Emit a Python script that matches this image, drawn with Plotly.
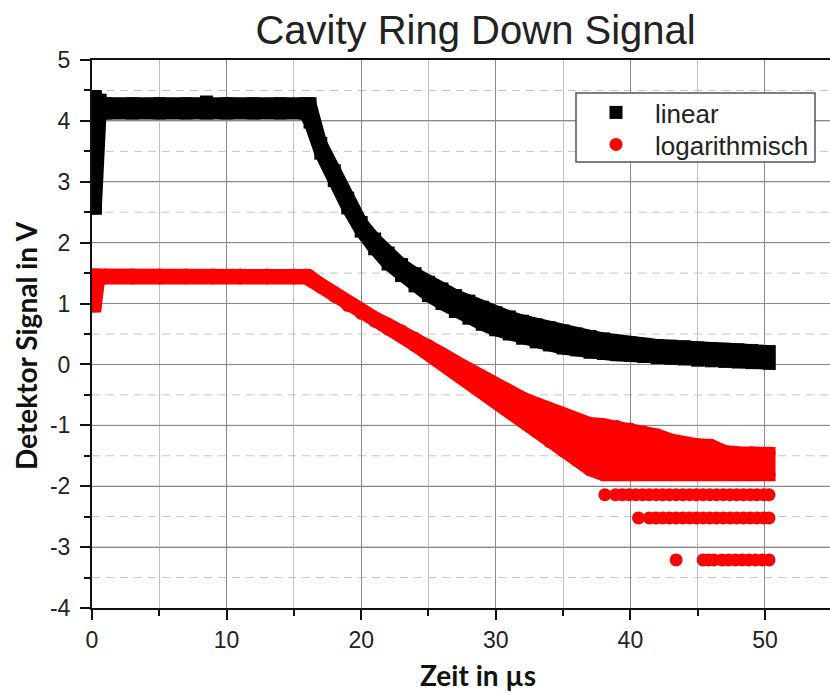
import plotly.graph_objects as go

# ---- measured ring-down data (time in µs, signal in V) ----
# "linear": detector voltage; band of samples given by upper/lower marker centres
lin_t = [0, 0.25, 0.6, 1, 3, 5, 7, 8.5, 10, 12, 14, 15.8, 16.2,
         17, 18, 19, 20, 21, 22, 23, 24, 25, 26, 27, 28, 29, 30,
         31, 32, 33, 34, 35, 36, 37, 38, 39, 40, 41, 42, 43, 44,
         45, 46, 47, 48, 49, 50.3]
lin_hi = [4.40, 4.40, 4.34, 4.28, 4.28, 4.28, 4.28, 4.31, 4.28, 4.28, 4.28, 4.28, 4.28,
          3.63, 3.18, 2.73, 2.33, 2.06, 1.83, 1.64, 1.49, 1.35, 1.24, 1.13, 1.04, 0.94, 0.85,
          0.78, 0.71, 0.65, 0.60, 0.55, 0.50, 0.46, 0.42, 0.38, 0.35, 0.33, 0.31, 0.30, 0.29,
          0.27, 0.26, 0.25, 0.24, 0.23, 0.21]
lin_lo = [2.57, 2.57, 4.13, 4.13, 4.13, 4.13, 4.13, 4.13, 4.13, 4.13, 4.13, 4.13, 3.98,
          3.47, 3.02, 2.57, 2.19, 1.90, 1.65, 1.46, 1.29, 1.13, 1.00, 0.87, 0.76, 0.66, 0.57,
          0.50, 0.43, 0.37, 0.32, 0.27, 0.24, 0.20, 0.18, 0.16, 0.15, 0.13, 0.11, 0.10, 0.09,
          0.07, 0.06, 0.05, 0.04, 0.03, 0.02]

# "logarithmisch": ln of the detector voltage
log_t = [0, 0.25, 0.5, 1, 3, 5, 7, 9, 11, 13, 15, 15.9, 16.1,
         17, 18, 19, 20, 21, 22, 23, 24, 25, 26, 27, 28, 29, 30,
         31, 32, 33, 34, 35, 36, 37, 38, 39, 40, 41, 42, 43, 44,
         45, 46, 47, 48, 49, 50.3]
log_hi = [1.47, 1.47, 1.47, 1.47, 1.47, 1.47, 1.47, 1.47, 1.47, 1.47, 1.47, 1.47, 1.46,
          1.32, 1.17, 1.02, 0.88, 0.77, 0.66, 0.55, 0.43, 0.31, 0.18, 0.05, -0.08, -0.21, -0.34,
          -0.45, -0.55, -0.64, -0.73, -0.82, -0.90, -0.97, -0.99, -1.02, -1.06, -1.11, -1.16, -1.24, -1.30,
          -1.32, -1.33, -1.43, -1.45, -1.45, -1.46]
log_lo = [0.96, 0.96, 1.42, 1.42, 1.42, 1.42, 1.42, 1.42, 1.42, 1.42, 1.42, 1.42, 1.40,
          1.27, 1.12, 0.97, 0.84, 0.71, 0.58, 0.45, 0.31, 0.17, 0.02, -0.13, -0.28, -0.45, -0.62,
          -0.77, -0.92, -1.10, -1.27, -1.42, -1.57, -1.73, -1.81, -1.81, -1.81, -1.81, -1.81, -1.81, -1.81,
          -1.81, -1.81, -1.81, -1.81, -1.81, -1.81]

# separate ADC quantisation levels at the end of the decay (ln of small voltages)
row1_v = -2.14
row1_t = [38.1, 38.9, 39.4, 39.9, 40.4, 40.9, 41.4, 41.9, 42.4, 42.9, 43.4, 43.9, 44.4,
          44.9, 45.4, 45.9, 46.4, 46.9, 47.4, 47.9, 48.4, 48.9, 49.4, 49.9, 50.3]
row2_v = -2.52
row2_t = [40.6, 41.4, 41.9, 42.4, 42.9, 43.4, 43.9, 44.4, 44.9, 45.4, 45.9, 46.4, 46.9,
          47.4, 47.9, 48.4, 48.9, 49.4, 49.9, 50.3]
row3_v = -3.21
row3_t = [43.4, 45.4, 45.8, 46.2, 46.8, 47.3, 47.8, 48.3, 48.8, 49.3, 49.8, 50.3]

x_ticks = [0, 10, 20, 30, 40, 50]
y_ticks = [-4, -3, -2, -1, 0, 1, 2, 3, 4, 5]
y_ticktext = ["-4", "-3", "-2", "-1", "0", "1", "2", "3", "4", "5"]
y_half = [-3.5, -2.5, -1.5, -0.5, 0.5, 1.5, 2.5, 3.5, 4.5]

BLACK = "#000000"
RED = "#ff0000"
MS = 13  # marker size in px
MAJOR_GRID = "#8a8a8a"

fig = go.Figure()


def add_band(t, hi, lo, color, symbol, name, legend):
    # dense sample band: closed outline filled, outline stroked with marker width
    fig.add_trace(go.Scatter(
        x=t + t[::-1], y=hi + lo[::-1], mode="lines", fill="toself",
        fillcolor=color, line=dict(color=color, width=MS),
        hoverinfo="skip", showlegend=False))
    fig.add_trace(go.Scatter(
        x=t + t, y=hi + lo, mode="markers", name=name, legend=legend,
        marker=dict(color=color, symbol=symbol, size=MS, line=dict(width=0))))


add_band(lin_t, lin_hi, lin_lo, BLACK, "square", "linear", "legend")
add_band(log_t, log_hi, log_lo, RED, "circle", "logarithmisch", "legend2")

for rt, rv in ((row1_t, row1_v), (row2_t, row2_v), (row3_t, row3_v)):
    fig.add_trace(go.Scatter(
        x=rt, y=[rv] * len(rt), mode="markers", showlegend=False,
        marker=dict(color=RED, symbol="circle", size=MS, line=dict(width=0))))

TICKFONT = dict(family="Liberation Sans, Arial", size=23, color="#222222")

fig.update_layout(
    xaxis=dict(
        range=[0, 54.83], tickvals=x_ticks, ticks="outside", ticklen=10, tickwidth=2,
        tickcolor="#111111", showline=True, linewidth=2, linecolor="#111111", mirror=True,
        showgrid=True, gridcolor=MAJOR_GRID, gridwidth=1, zeroline=False, tickfont=TICKFONT,
        minor=dict(dtick=5, tick0=0, ticks="outside", ticklen=6, tickwidth=2,
                   tickcolor="#111111", showgrid=True, gridcolor="#c0c0c0", gridwidth=1)),
    yaxis=dict(
        range=[-4, 5], tickmode="array", tickvals=y_ticks, ticktext=y_ticktext,
        ticks="outside", ticklen=10, tickwidth=2, ticklabelstandoff=5,
        tickcolor="#111111", showline=True, linewidth=2, linecolor="#111111",
        showgrid=True, gridcolor=MAJOR_GRID, gridwidth=1, zeroline=False, tickfont=TICKFONT,
        minor=dict(tickmode="array", tickvals=y_half, ticks="outside", ticklen=6, tickwidth=2,
                   tickcolor="#111111", showgrid=False)),
)


def px_x(p):
    return (p - 92) / 738


def px_y(p):
    return (608 - p) / 548


# solid major grid at the labelled ticks, dashed grid at the half volts
grid_shapes = []
for v in y_ticks[1:-1]:
    grid_shapes.append(dict(type="line", xref="paper", yref="y", x0=0, x1=1, y0=v, y1=v,
                            layer="below", line=dict(color=MAJOR_GRID, width=1)))
for v in y_half:
    grid_shapes.append(dict(type="line", xref="paper", yref="y", x0=0, x1=1, y0=v, y1=v,
                            layer="below", line=dict(color="#c4c4c4", width=1, dash="8px,6px")))

legend_box = dict(type="rect", xref="paper", yref="paper", layer="above",
                  x0=px_x(576), x1=px_x(815), y0=px_y(162), y1=px_y(93),
                  fillcolor="white", line=dict(color="#555555", width=1.5))

LEGFONT = dict(family="Liberation Sans, Arial", size=26, color="#222222")
LEGSTYLE = dict(xanchor="left", yanchor="top", bgcolor="rgba(0,0,0,0)", borderwidth=0,
                itemwidth=68, font=LEGFONT)

fig.update_layout(
    width=830, height=693,
    margin=dict(l=92, r=0, t=60, b=85),
    paper_bgcolor="white", plot_bgcolor="white",
    title=dict(text="Cavity Ring Down Signal", x=0.573, xanchor="center",
               y=0.957, yanchor="middle",
               font=dict(family="Liberation Sans, Arial", size=40, color="#222222")),
    legend=dict(x=px_x(577), y=px_y(89), **LEGSTYLE),
    legend2=dict(x=px_x(577), y=px_y(121), **LEGSTYLE),
    shapes=grid_shapes + [legend_box],
    annotations=[
        dict(text="<b>Zeit in µs</b>", xref="paper", yref="paper",
             x=px_x(478), y=px_y(675), xanchor="center", yanchor="middle",
             showarrow=False, font=dict(family="Lato", size=28, color="#111111")),
        dict(text="<b>Detektor Signal in V</b>", xref="paper", yref="paper",
             x=px_x(26), y=px_y(346), xanchor="center", yanchor="middle",
             textangle=-90, showarrow=False, font=dict(family="Lato", size=28, color="#111111")),
    ],
    showlegend=True,
)

fig.write_html("out.html")
